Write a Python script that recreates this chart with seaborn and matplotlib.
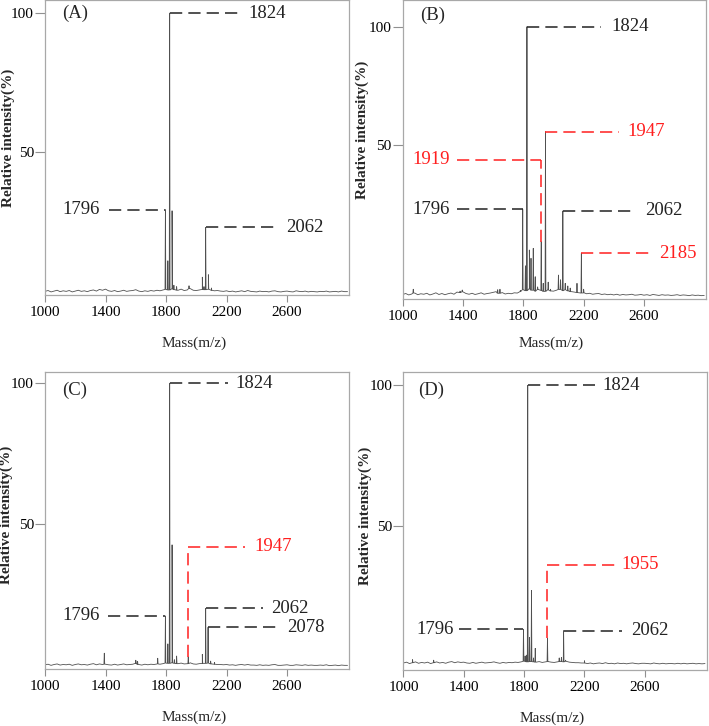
import matplotlib
matplotlib.use("Agg")
import pandas as pd
import matplotlib.pyplot as plt
import seaborn as sns

# ---- data ----
mass_ticks = [1000, 1400, 1800, 2200, 2600]
intensity_ticks = [50, 100]
noise_grid = list(range(1000, 3001, 20))

# (A)
peaks_a_mz = [1796, 1812, 1824, 1840, 1852, 1870, 1952, 2040, 2051, 2062, 2080, 2100]
peaks_a_int = [29.2, 10.8, 100, 28.8, 2.0, 1.5, 1.8, 4.9, 1.5, 22.8, 5.8, 1.0]
base_a = -0.7
noise_a = [0.5, 0.8, 0.3, 0.6, 0.9, 0.4, 0.7, 0.5, 0.8, 0.3,
           0.6, 0.9, 0.5, 0.7, 0.4, 0.8, 1.0, 0.6, 1.2, 0.9,
           1.3, 0.7, 0.5, 0.8, 0.4, 0.6, 0.9, 0.5, 0.7, 0.8,
           1.1, 0.6, 0.4, 0.7, 0.5, 0.8, 0.6, 0.9, 0.7, 1.0,
           1.2, 1.0, 1.4, 1.1, 0.9, 1.3, 0.8, 1.0, 1.5, 0.9,
           0.8, 1.0, 1.2, 1.1, 1.3, 0.9, 0.7, 0.8, 0.6, 0.5,
           0.7, 0.4, 0.6, 0.3, 0.5, 0.7, 0.4, 0.8, 0.5, 0.4,
           0.3, 0.6, 0.4, 0.5, 0.3, 0.6, 0.7, 0.4, 0.3, 0.5,
           0.6, 0.4, 0.3, 0.7, 0.5, 0.4, 0.6, 0.3, 0.5, 0.4,
           0.3, 0.5, 0.4, 0.6, 0.3, 0.4, 0.5, 0.3, 0.6, 0.4,
           0.4]

# (B)
peaks_b_mz = [1070, 1380, 1395, 1630, 1645, 1780, 1796, 1814, 1824, 1840, 1851,
              1866, 1879, 1895, 1919, 1932, 1947, 1965, 1980, 2033, 2047, 2062,
              2078, 2095, 2111, 2156, 2185, 2200]
peaks_b_int = [-11.0, -11.8, -11.3, -11.2, -11.0, -11.5, 22.8, -1.1, 100, 5.6, 2.1,
               6.3, -5.7, -10.0, 9.1, -8.5, 55.6, -8.0, -11.0, -5.0, -7.0, 22.1,
               -8.5, -9.6, -10.5, -8.5, 4.2, -11.0]
base_b = -14.0
noise_b = [0.8, 1.2, 0.6, 1.0, 1.4, 0.7, 1.1, 0.9, 1.3, 0.6,
           1.0, 1.5, 0.8, 1.2, 0.7, 1.1, 1.4, 0.9, 1.8, 1.6,
           1.9, 1.2, 0.9, 1.3, 0.8, 1.1, 1.5, 0.9, 1.2, 1.4,
           1.7, 2.0, 1.3, 1.6, 1.0, 1.3, 1.1, 1.5, 1.4, 2.0,
           2.8, 2.4, 3.2, 2.6, 2.2, 2.9, 2.5, 2.1, 2.7, 2.3,
           2.2, 2.6, 2.9, 2.4, 2.8, 2.3, 2.0, 1.8, 1.6, 1.4,
           1.5, 1.1, 1.3, 0.9, 1.1, 1.2, 0.8, 1.0, 0.7, 0.9,
           0.6, 0.9, 0.5, 0.8, 0.6, 0.7, 0.9, 0.5, 0.6, 0.8,
           0.5, 0.7, 0.4, 0.8, 0.6, 0.4, 0.7, 0.5, 0.6, 0.4,
           0.5, 0.7, 0.4, 0.6, 0.5, 0.3, 0.6, 0.4, 0.5, 0.3,
           0.4]

# (C)
peaks_c_mz = [1392, 1600, 1612, 1745, 1796, 1812, 1824, 1840, 1855, 1870, 1947,
              2040, 2062, 2078, 2095, 2120]
peaks_c_int = [4.3, 1.8, 1.4, 2.5, 17.5, 7.6, 100, 42.7, 2.0, 3.3, 3.0,
               3.9, 20.2, 13.5, 1.5, 1.0]
base_c = -0.3
noise_c = [0.5, 0.7, 0.3, 0.6, 0.8, 0.4, 0.6, 0.5, 0.7, 0.3,
           0.6, 0.8, 0.5, 0.6, 0.4, 0.7, 0.9, 0.5, 0.8, 0.6,
           0.7, 0.5, 0.4, 0.7, 0.4, 0.6, 0.8, 0.5, 0.6, 0.7,
           1.0, 0.6, 0.4, 0.7, 0.5, 0.7, 0.6, 0.8, 0.7, 0.9,
           1.1, 1.0, 1.2, 1.0, 0.9, 1.1, 0.8, 0.9, 1.2, 0.8,
           0.7, 0.9, 1.0, 1.0, 1.1, 0.8, 0.7, 0.6, 0.6, 0.5,
           0.6, 0.4, 0.5, 0.3, 0.5, 0.6, 0.4, 0.6, 0.4, 0.4,
           0.3, 0.5, 0.3, 0.4, 0.3, 0.5, 0.6, 0.3, 0.3, 0.4,
           0.5, 0.3, 0.3, 0.5, 0.4, 0.3, 0.5, 0.3, 0.4, 0.3,
           0.3, 0.4, 0.3, 0.5, 0.2, 0.3, 0.4, 0.2, 0.4, 0.3,
           0.3]

# (D)
peaks_d_mz = [1060, 1200, 1796, 1807, 1816, 1824, 1836, 1849, 1862, 1874, 1955,
              2033, 2048, 2062, 2075, 2200]
peaks_d_int = [2.4, 2.2, 13.2, 3.7, 4.0, 100, 10.3, 27.0, 3.0, 6.4, 10.0,
               3.0, 3.2, 12.7, 2.2, 2.0]
base_d = 0.6
noise_d = [0.6, 0.9, 0.4, 0.7, 1.0, 0.5, 0.8, 0.6, 0.9, 0.4,
           0.7, 1.0, 0.6, 0.8, 0.5, 0.9, 1.1, 0.7, 1.0, 0.8,
           0.9, 0.6, 0.5, 0.8, 0.5, 0.7, 0.9, 0.6, 0.7, 0.8,
           1.0, 0.7, 0.5, 0.8, 0.6, 0.8, 0.7, 0.9, 0.8, 1.0,
           1.2, 1.0, 1.1, 1.0, 0.9, 1.1, 0.8, 1.0, 1.1, 0.9,
           0.8, 1.0, 1.1, 1.0, 1.2, 0.9, 0.8, 0.7, 0.7, 0.6,
           0.6, 0.4, 0.6, 0.3, 0.5, 0.6, 0.4, 0.7, 0.4, 0.5,
           0.3, 0.6, 0.4, 0.5, 0.3, 0.5, 0.6, 0.4, 0.3, 0.5,
           0.5, 0.4, 0.3, 0.6, 0.4, 0.3, 0.5, 0.3, 0.4, 0.4,
           0.3, 0.5, 0.3, 0.5, 0.3, 0.4, 0.5, 0.3, 0.4, 0.3,
           0.4]

# ---- layout: axes rectangles, limits and labelled-peak callouts ----
# callout: (peak m/z, level, dash end x, text x, colour, rise from y)
BLACK = "#222222"
RED = "#ff1f1f"
panels = [
    dict(tag="(A)", rect=[0.0635, 0.5937, 0.4288, 0.4063], ylim=(-1.5, 104.7),
         tag_xy=(1110, 100), ylab=(-0.100, 0.534), xlab=-0.14,
         peaks=(peaks_a_mz, peaks_a_int, base_a, noise_a),
         callouts=[(1824, 100, 2290, 2342, BLACK, None),
                   (1796, 29.2, 1425, 1364, BLACK, None),
                   (2062, 22.8, 2532, 2593, BLACK, None)]),
    dict(tag="(B)", rect=[0.568, 0.5882, 0.4274, 0.4118], ylim=(-15.1, 111.3),
         tag_xy=(1118, 105), ylab=(-0.111, 0.565), xlab=-0.125,
         peaks=(peaks_b_mz, peaks_b_int, base_b, noise_b),
         callouts=[(1824, 100, 2312, 2385, BLACK, None),
                   (1947, 55.6, 2434, 2489, RED, None),
                   (1919, 43.7, 1359, 1310, RED, 9.1),
                   (1796, 22.8, 1359, 1310, BLACK, None),
                   (2062, 22.1, 2545, 2607, BLACK, None),
                   (2185, 4.2, 2666, 2704, RED, None)]),
    dict(tag="(C)", rect=[0.0635, 0.0781, 0.4288, 0.41], ylim=(-1.4, 104.1),
         tag_xy=(1110, 97.4), ylab=(-0.104, 0.518), xlab=-0.14,
         peaks=(peaks_c_mz, peaks_c_int, base_c, noise_c),
         callouts=[(1824, 100, 2210, 2261, BLACK, None),
                   (1796, 17.5, 1414, 1363, BLACK, None),
                   (1947, 42.1, 2325, 2386, RED, 3.0),
                   (2062, 20.2, 2441, 2496, BLACK, None),
                   (2078, 13.5, 2562, 2600, BLACK, None)]),
    dict(tag="(D)", rect=[0.5691, 0.0771, 0.4274, 0.41], ylim=(-1.3, 104.6),
         tag_xy=(1097, 98.2), ylab=(-0.105, 0.517), xlab=-0.14,
         peaks=(peaks_d_mz, peaks_d_int, base_d, noise_d),
         callouts=[(1824, 100, 2272, 2318, BLACK, None),
                   (1796, 13.2, 1369, 1331, BLACK, None),
                   (1955, 36.1, 2403, 2447, RED, 10.0),
                   (2062, 12.7, 2447, 2513, BLACK, None)]),
]


def build_spectrum(peak_mz, peak_int, base, noise):
    """Stick peaks on top of the baseline grass, as one polyline."""
    xs = list(noise_grid)
    ys = [base + n for n in noise]
    for m, h in zip(peak_mz, peak_int):
        # foot of the stick sits on the nearest baseline sample
        foot = base + noise[round((m - noise_grid[0]) / 20)]
        xs += [m - 2.5, m, m + 2.5]
        ys += [foot, h, foot]
    df = pd.DataFrame({"mz": xs, "intensity": ys})
    return df.sort_values("mz", kind="stable").reset_index(drop=True)


sns.set_style("ticks")
plt.rcParams["font.family"] = ["Liberation Serif", "DejaVu Serif"]
plt.rcParams["axes.edgecolor"] = "#a8a8a8"
plt.rcParams["xtick.color"] = "#909090"
plt.rcParams["ytick.color"] = "#909090"
plt.rcParams["xtick.labelcolor"] = "black"
plt.rcParams["ytick.labelcolor"] = "black"

fig = plt.figure(figsize=(7.09, 7.26), dpi=100)
dash = (0, (8, 4))

for p in panels:
    ax = fig.add_axes(p["rect"])
    spec = build_spectrum(*p["peaks"])
    sns.lineplot(data=spec, x="mz", y="intensity", sort=False, estimator=None,
                 color="#505050", lw=0.6, ax=ax)

    for mz, level, end_x, text_x, color, rise in p["callouts"]:
        if rise is not None:
            ax.plot([mz, mz], [rise, level], ls=dash, color=color, lw=1.1)
        if end_x > mz:
            ax.plot([mz, end_x], [level, level], ls=dash, color=color, lw=1.1)
            ha = "left"
        else:
            # start the dash pattern next to the label
            ax.plot([end_x, mz], [level, level], ls=dash, color=color, lw=1.1)
            ha = "right"
        ax.text(text_x, level, str(mz), ha=ha, va="center", color=color,
                fontsize=13.5)

    ax.text(p["tag_xy"][0], p["tag_xy"][1], p["tag"], ha="left", va="center",
            fontsize=13.5)

    ax.set_xlim(1000, 3010)
    ax.set_ylim(*p["ylim"])
    ax.set_xticks(mass_ticks)
    ax.set_yticks(intensity_ticks)
    ax.tick_params(axis="x", length=5, width=0.8, labelsize=11, pad=3)
    ax.tick_params(axis="y", length=7, width=0.8, labelsize=11, pad=1)
    for s in ax.spines.values():
        s.set_linewidth(0.9)

    ax.set_xlabel("Mass(m/z)", fontsize=11)
    ax.set_ylabel("Relative intensity(%)", fontsize=11, fontweight="bold")
    ax.yaxis.set_label_coords(*p["ylab"])
    ax.xaxis.set_label_coords(0.49, p["xlab"])
    ax.xaxis.label.set_va("top")

fig.savefig("out.png", dpi=100)
plt.close(fig)
